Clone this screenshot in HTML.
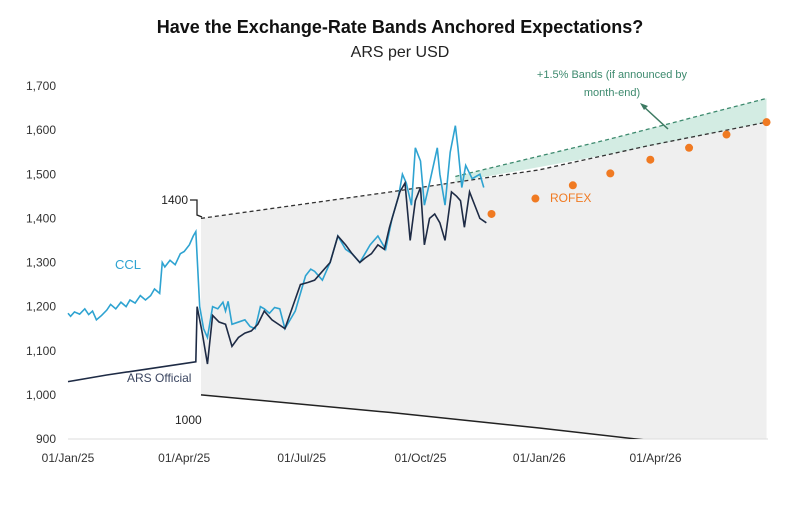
<!DOCTYPE html>
<html><head><meta charset="utf-8"><style>
body{margin:0;background:#fff;font-family:"Liberation Sans",sans-serif}
svg{display:block}
</style></head><body>
<svg id="c" width="800" height="508">
<text x="400" y="33" text-anchor="middle" font-size="18" font-weight="bold" fill="#111">Have the Exchange-Rate Bands Anchored Expectations?</text>
<text x="400" y="57" text-anchor="middle" font-size="16" fill="#222">ARS per USD</text>
<g id="g"></g>
</svg>
<script>
const yTicks=[900,1000,1100,1200,1300,1400,1500,1600,1700];
const xTickDays=[0,90,181,273,365,455];
const xTickLabels=['01/Jan/25','01/Apr/25','01/Jul/25','01/Oct/25','01/Jan/26','01/Apr/26'];
const cclDays=[0,2,5,9,13,16,19,22,26,30,33,37,41,45,48,52,56,60,64,67,71,73,75,79,83,87,90,94,97,99,102,105,108,112,116,120,122,124,127,132,137,141,145,149,152,156,160,164,168,172,176,180,184,188,191,197,203,209,215,220,226,230,234,240,246,251,256,259,262,266,269,273,276,280,283,286,288,292,296,300,302,305,308,313,319,322];
const cclVals=[1185,1178,1188,1183,1195,1182,1190,1170,1180,1192,1205,1195,1210,1200,1215,1208,1225,1215,1225,1240,1230,1300,1290,1305,1295,1320,1325,1340,1360,1370,1200,1150,1130,1200,1195,1210,1190,1212,1160,1165,1170,1155,1150,1200,1195,1185,1198,1195,1150,1170,1190,1230,1270,1285,1280,1260,1300,1360,1330,1320,1300,1320,1340,1360,1330,1400,1450,1500,1480,1430,1560,1530,1430,1480,1520,1560,1500,1430,1550,1610,1560,1470,1520,1490,1500,1470];
const offDays=[0,30,60,99,100,104,108,112,117,122,127,132,137,142,147,152,158,163,168,174,180,186,191,197,203,209,215,220,226,230,235,240,245,249,253,257,261,265,269,273,276,280,284,288,292,297,301,304,307,311,315,319,324];
const offVals=[1030,1045,1058,1075,1200,1140,1070,1180,1165,1160,1110,1130,1140,1145,1160,1190,1170,1160,1150,1200,1250,1255,1260,1280,1300,1360,1340,1320,1300,1310,1320,1340,1330,1380,1420,1460,1480,1350,1440,1470,1340,1400,1410,1390,1350,1460,1450,1440,1380,1460,1430,1400,1390];
const bandDays=[103,250,365,450,541];
const bandUpper=[1400,1460,1510,1565,1618];
const bandLowerDays=[103,250,365,440,541];
const bandLower=[1000,960,925,900,870];
const greenDays=[300,420,541];
const greenUpper=[1495,1580,1672];
const rofexDays=[328,362,391,420,451,481,510,541];
const rofexVals=[1410,1445,1475,1502,1533,1560,1590,1618];

const X=d=>68+d*1.2912, Y=v=>439-(v-900)*0.44125;
const NS='http://www.w3.org/2000/svg', g=document.getElementById('g');
function mk(t,a,p){const e=document.createElementNS(NS,t);for(const k in a)e.setAttribute(k,a[k]);(p||g).appendChild(e);return e;}
function interp(ds,vs,d){for(let i=0;i<ds.length-1;i++)if(d>=ds[i]&&d<=ds[i+1])return vs[i]+(vs[i+1]-vs[i])*(d-ds[i])/(ds[i+1]-ds[i]);return vs[vs.length-1];}
const defs=mk('defs',{});const cp=mk('clipPath',{id:'cp'},defs);mk('rect',{x:60,y:60,width:720,height:379},cp);

let pts=bandDays.map((d,i)=>X(d)+','+Y(bandUpper[i]));
pts.push(X(541)+','+Y(900));
for(let i=bandLowerDays.length-1;i>=0;i--)pts.push(X(bandLowerDays[i])+','+Math.min(Y(900),Y(bandLower[i])));
let e=mk('polygon',{points:pts.join(' '),fill:'#efefef'});

let gp=greenDays.map((d,i)=>X(d)+','+Y(greenUpper[i]));
for(let i=greenDays.length-1;i>=0;i--)gp.push(X(greenDays[i])+','+Y(interp(bandDays,bandUpper,greenDays[i])));
e=mk('polygon',{points:gp.join(' '),fill:'#d3ece3'});

mk('line',{x1:68,x2:768,y1:439,y2:439,stroke:'#ddd'});
yTicks.forEach(v=>{const t=mk('text',{x:56,y:Y(v)+4,'text-anchor':'end','font-size':12,fill:'#333'});t.textContent=v.toLocaleString('en-US');
});
xTickDays.forEach((d,i)=>{const t=mk('text',{x:X(d),y:462,'text-anchor':'middle','font-size':12,fill:'#333'});t.textContent=xTickLabels[i];
});
e=mk('polyline',{points:bandDays.map((d,i)=>X(d)+','+Y(bandUpper[i])).join(' '),fill:'none',stroke:'#333','stroke-width':1.3,'stroke-dasharray':'4,3'});

e=mk('polyline',{points:greenDays.map((d,i)=>X(d)+','+Y(greenUpper[i])).join(' '),fill:'none',stroke:'#3d8a6e','stroke-width':1.3,'stroke-dasharray':'4,3'});

e=mk('polyline',{points:bandLowerDays.map((d,i)=>X(d)+','+Y(bandLower[i])).join(' '),fill:'none',stroke:'#222','stroke-width':1.5,'clip-path':'url(#cp)'});

e=mk('polyline',{points:cclDays.map((d,i)=>X(d)+','+Y(cclVals[i])).join(' '),fill:'none',stroke:'#2ea3d1','stroke-width':1.6});

e=mk('polyline',{points:offDays.map((d,i)=>X(d)+','+Y(offVals[i])).join(' '),fill:'none',stroke:'#1e2b45','stroke-width':1.6});

rofexDays.forEach((d,i)=>{const c=mk('circle',{cx:X(d),cy:Y(rofexVals[i]),r:4,fill:'#f07a22'});
});
e=mk('polyline',{points:'190,200 197,200 197,215 202,217',fill:'none',stroke:'#222','stroke-width':1.3});

function lab(x,y,t,c,s,n,a){const el=mk('text',{x:x,y:y,'font-size':s||12,fill:c,'text-anchor':a||'start'});el.textContent=t;return el;}
lab(188,204,'1400','#222',12,'upper-band-label','end');
lab(175,424,'1000','#222',12,'lower-band-label');
lab(115,269,'CCL','#2ea3d1',13,'ccl-label');
lab(127,382,'ARS Official','#3a4560',12,'ars-official-label');
lab(550,202,'ROFEX','#f07a22',12,'rofex-label');
lab(612,78,'+1.5% Bands (if announced by','#3d8a6e',11,'green-band-label-1','middle');
lab(612,96,'month-end)','#3d8a6e',11,'green-band-label-2','middle');
e=mk('line',{x1:643,y1:106,x2:668,y2:129,stroke:'#3d7a62','stroke-width':1.5});

mk('polygon',{points:'640,103 648,106 644,110',fill:'#3d7a62'});
</script>
</body></html>
